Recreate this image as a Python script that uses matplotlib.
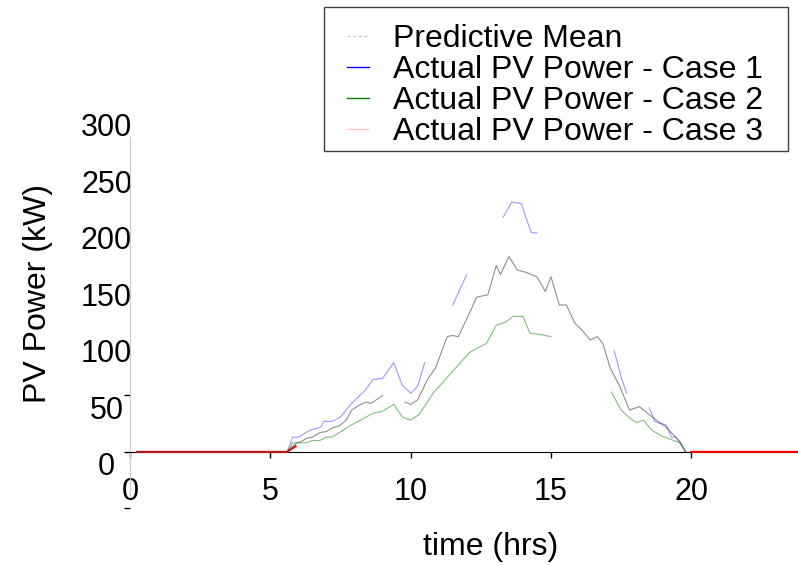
import numpy as np
import matplotlib
matplotlib.use('Agg')
import matplotlib.pyplot as plt
from matplotlib.lines import Line2D
from matplotlib.patches import Rectangle
from matplotlib.transforms import ScaledTranslation

plt.rcParams['font.family'] = ['Liberation Sans', 'DejaVu Sans']

nan = np.nan

# 预测均值
t_mean = [0.25, 5.6, 5.8, 5.94, 6.1, 6.3, 6.5, 6.76, 7.0, 7.2, 7.45, 7.7, 7.9, 8.15, 8.4, 8.6, 9.0,
          9.05, 9.8, 10.0, 10.25, 10.6, 10.9, 11.3, 11.5, 11.7, 12.1, 12.35, 12.75, 13.05, 13.2,
          13.5, 13.8, 14.1, 14.5, 14.8, 15.0, 15.3, 15.55, 15.85, 16.1, 16.4, 16.65, 16.85, 17.1,
          17.45, 17.8, 18.15, 18.6, 19.1, 19.6, 19.8]
p_mean = [0, 0, 5, 8, 9, 12, 13, 17, 18, 21, 23, 28, 37, 41, 44, 43, 50,
          nan, 44, 42, 46, 64, 75, 102, 103, 102, 123, 137, 139, 165, 157,
          173, 161, 159, 155, 142, 155, 130, 130, 114, 108, 99, 102, 96, 75,
          58, 37, 40, 31, 22, 9, 0]

# Case 1
t_case1 = [5.6, 5.8, 6.0, 6.4, 6.8, 6.9, 7.2, 7.5, 7.9, 8.4, 8.65, 9.0, 9.4, 9.7, 10.0, 10.25, 10.5,
           10.55, 11.5, 12.0, 12.05, 13.3, 13.6, 13.95, 14.1, 14.3, 14.5, 14.55, 17.25, 17.5, 17.7,
           17.75, 18.5, 18.7, 18.9, 19.1, 19.3, 19.45, 19.7, 19.8]
p_case1 = [0, 13, 13, 19, 22, 27, 27, 31, 43, 55, 64, 65, 79, 59, 52, 58, 79,
           nan, 130, 157, nan, 208, 221, 220, 208, 194, 194, nan, 90, 66, 52,
           nan, 39, 27, 25, 24, 13, 13, 4, 0]

# Case 2
t_case2 = [5.6, 5.8, 6.3, 6.5, 6.76, 7.0, 7.2, 7.9, 8.65, 9.0, 9.4, 9.7, 10.0, 10.3, 10.7, 10.8,
           12.1, 12.7, 13.05, 13.4, 13.65, 14.0, 14.25, 14.6, 15.0, 15.05, 17.15, 17.5, 17.8,
           18.05, 18.3, 18.6, 18.95, 19.6, 19.8]
p_case2 = [0, 8, 8, 10, 10, 13, 13, 24, 34, 36, 42, 31, 28, 33, 48, 52,
           88, 96, 112, 115, 120, 120, 105, 104, 102, nan, 53, 37, 30,
           26, 28, 19, 14, 8, 0]

# Case 3
t_case3 = [0.25, 5.6, 5.9, 5.95, 20.0, 24.0]
p_case3 = [0, 0, 5, nan, 0, 0]

xticks = [0, 5, 10, 15, 20]
yticks = [-50, 0, 50, 100, 150, 200, 250, 300]
ytick_labels = ['', '0', '50', '100', '150', '200', '250', '300']

fig = plt.figure(figsize=(7.98, 5.65), dpi=100)
ax = fig.add_axes([0.1629, 0.0903, 0.837, 0.7097])

ax.plot(t_case3, p_case3, color='red', lw=1.5, zorder=2.6, clip_on=False)
ax.plot(t_case1, p_case1, color='blue', lw=0.8, alpha=0.4, zorder=3)
ax.plot(t_case2, p_case2, color='green', lw=0.8, alpha=0.5, zorder=3)
ax.plot(t_mean, p_mean, color='#444444', lw=0.8, alpha=0.6, zorder=3.5)

ax.set_xlim(0, 23.8)
ax.set_ylim(-55, 300)

ax.spines['top'].set_visible(False)
ax.spines['right'].set_visible(False)
ax.spines['bottom'].set_position(('data', 0))
ax.spines['bottom'].set_color('black')
ax.spines['left'].set_color('#cccccc')
ax.spines['left'].set_bounds(-40, 279)

ax.set_xticks(xticks)
ax.set_yticks(yticks, ytick_labels)
ax.tick_params(axis='x', length=4, width=1, pad=14, labelsize=22)
ax.tick_params(axis='y', length=4, width=1, pad=0, labelsize=22)
for tk in ax.yaxis.get_major_ticks()[3:]:
    tk.tick1line.set_visible(False)

offset = ScaledTranslation(-0.18, -0.12, fig.dpi_scale_trans)
for lbl in ax.get_yticklabels():
    lbl.set_horizontalalignment('center')
    lbl.set_transform(lbl.get_transform() + offset)

ax.set_xlabel('time (hrs)', fontsize=23)
ax.xaxis.set_label_coords(0.54, -0.045)
ax.set_ylabel('PV Power (kW)', fontsize=23)
ax.yaxis.set_label_coords(-0.115, 0.55)

handles = [
    Line2D([], [], color='#999999', lw=0.8, ls=(0, (3, 2)), alpha=0.6),
    Line2D([], [], color='blue', lw=1.0),
    Line2D([], [], color='green', lw=1.0),
    Line2D([], [], color='#ff9999', lw=1.0, alpha=0.5),
]
labels = ['Predictive Mean', 'Actual PV Power - Case 1',
          'Actual PV Power - Case 2', 'Actual PV Power - Case 3']
leg = fig.legend(handles, labels, loc='upper left', bbox_to_anchor=(347 / 798, 1 - 24 / 565),
                 fontsize=23, frameon=False, handlelength=0.69, handletextpad=0.75,
                 labelspacing=0.03, borderpad=0, borderaxespad=0)

# 图例外框
fig.patches.append(Rectangle((324 / 798, 1 - 151 / 565), 464 / 798, 144 / 565,
                             transform=fig.transFigure, fill=False,
                             edgecolor='#404040', lw=1.0))

fig.savefig('out.png', dpi=100)
